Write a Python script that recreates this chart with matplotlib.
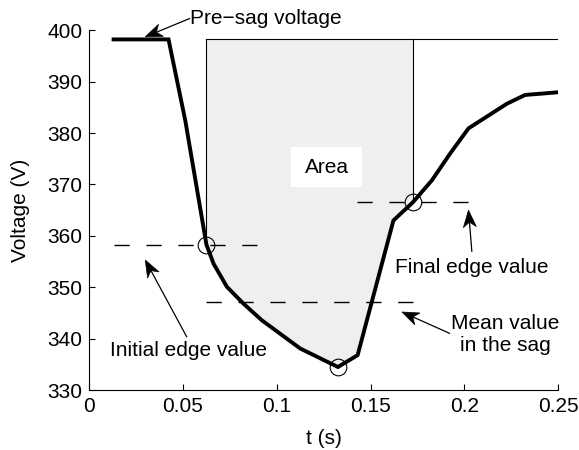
import numpy as np
import matplotlib
matplotlib.use("Agg")
import matplotlib.pyplot as plt
from matplotlib.patches import Polygon, Rectangle

plt.rcParams['font.family'] = ['Liberation Sans', 'DejaVu Sans']
plt.rcParams['font.size'] = 15

# RMS voltage during the sag
t = [0.0130, 0.0423, 0.0512, 0.0625, 0.0663, 0.0734, 0.0823, 0.0920, 0.1125,
     0.1326, 0.1431, 0.1622, 0.1725, 0.1827, 0.1924, 0.2022, 0.2227, 0.2324, 0.2493]
v = [398.2, 398.2, 382.5, 358.3, 354.6, 350.1, 346.8, 343.6, 338.1,
     334.5, 336.8, 363.0, 366.5, 370.8, 376.0, 380.9, 385.7, 387.4, 387.9]

presag = 398.2
t_start, v_start = 0.0625, 358.3     # initial edge
t_end, v_end = 0.1725, 366.5         # final edge
v_mean = 347.1                       # mean value in the sag

x_ticks = [0, 0.05, 0.1, 0.15, 0.2, 0.25]
x_ticklabels = ['0', '0.05', '0.1', '0.15', '0.2', '0.25']
y_ticks = [330, 340, 350, 360, 370, 380, 390, 400]

t = np.array(t)
v = np.array(v)

fig = plt.figure(figsize=(5.79, 4.5), dpi=100)
ax = fig.add_axes([0.154, 0.133, 0.810, 0.800])
ax.set_xlim(0, 0.25)
ax.set_ylim(330, 400)


def notched_arrow(ax, tail, tip, head_len=17, head_w=6.5, notch=5):
    # arrow with a swept-back head, sized in pixels
    trans = ax.transData
    p0 = trans.transform(tail)
    p1 = trans.transform(tip)
    d = p1 - p0
    u = d / np.hypot(*d)
    n = np.array([-u[1], u[0]])
    back = p1 - u * head_len
    inner = p1 - u * (head_len - notch)
    pts = np.array([p1, back + n * head_w, inner, back - n * head_w])
    pts = trans.inverted().transform(pts)
    shaft_end = trans.inverted().transform(inner)
    ax.plot([tail[0], shaft_end[0]], [tail[1], shaft_end[1]], color='black',
            lw=0.9, clip_on=False, solid_capstyle='butt')
    ax.add_patch(Polygon(pts, closed=True, facecolor='black', edgecolor='black',
                         lw=0.5, clip_on=False))


# shaded area between the curve and the pre-sag level
inside = (t > t_start) & (t < t_end)
tf = np.concatenate([[t_start], t[inside], [t_end]])
vf = np.concatenate([[v_start], v[inside], [v_end]])
ax.fill_between(tf, vf, presag, color='#efefef', lw=0)

ax.add_patch(Rectangle((0.1077, 369.5), 0.0378, 7.7, facecolor='white',
                       edgecolor='none'))
ax.text(0.1268, 373.2, 'Area', ha='center', va='center')

# reference lines
ax.plot([t_start, 0.25], [presag, presag], color='black', lw=0.8)
ax.plot([t_start, t_start], [presag, v_start], color='black', lw=0.8)
ax.plot([t_end, t_end], [presag, v_end], color='black', lw=0.8)

dash = (0, (11, 12))
ax.plot([0.013, 0.0893], [v_start, v_start], color='black', lw=1, ls=dash)
ax.plot([t_start, t_end], [v_mean, v_mean], color='black', lw=1, ls=dash)
ax.plot([0.1427, 0.2022], [v_end, v_end], color='black', lw=1, ls=dash)

ax.plot(t, v, color='black', lw=2.8, solid_joinstyle='miter')

i_min = np.argmin(v)
ax.plot([t_start, t[i_min], t_end], [v_start, v[i_min], v_end], 'o',
        ms=12, mfc='none', mec='black', mew=0.8)

# annotations
ax.text(0.0538, 402.3, 'Pre\u2212sag voltage', ha='left', va='center', clip_on=False)
notched_arrow(ax, (0.0538, 402.3), (0.0299, 398.7))

ax.text(0.0528, 337.7, 'Initial edge value', ha='center', va='center')
notched_arrow(ax, (0.0521, 340.3), (0.0299, 355.3))

ax.text(0.2040, 353.9, 'Final edge value', ha='center', va='center')
notched_arrow(ax, (0.2040, 356.9), (0.2022, 365.0))

ax.text(0.2218, 340.9, 'Mean value\nin the sag', ha='center', va='center',
        linespacing=1.2)
notched_arrow(ax, (0.1924, 341.0), (0.1667, 345.2))

ax.set_xticks(x_ticks)
ax.set_xticklabels(x_ticklabels)
ax.set_yticks(y_ticks)
ax.spines['top'].set_visible(False)
ax.spines['right'].set_visible(False)
ax.spines['left'].set_linewidth(0.8)
ax.spines['bottom'].set_linewidth(0.8)
ax.tick_params(direction='in', length=4, width=0.8, pad=5)
ax.set_xlabel('t (s)', labelpad=9)
ax.set_ylabel('Voltage (V)', labelpad=12)

fig.savefig('out.png', dpi=100)
